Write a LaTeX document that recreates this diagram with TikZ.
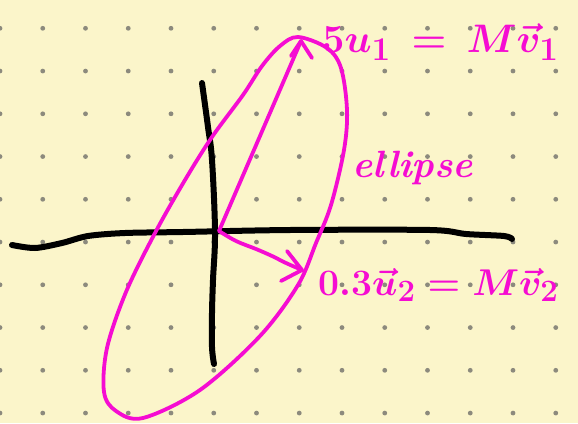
\documentclass[tikz,border=0pt]{standalone}
\usetikzlibrary{arrows.meta}
\definecolor{paper}{RGB}{251,245,202}
\definecolor{dotc}{RGB}{140,138,125}
\definecolor{pink}{RGB}{245,12,210}
\tikzset{
  axis/.style={black, line width=6pt, line cap=round, line join=round},
  ink/.style={pink, line width=3.8pt, line cap=round, line join=round},
  label/.style={pink, inner sep=0pt, font=\Huge\boldmath},
}
\begin{document}
\begin{tikzpicture}[x=1pt,y=-1pt]
  \fill[paper] (0,0) rectangle (578,423);
  \useasboundingbox (0,0) rectangle (578,423);
  % dot grid
  \foreach \i in {0,...,13} {
    \foreach \j in {0,...,9} {
      \fill[dotc] ({42.75*\i},{28.3+42.75*\j}) circle (2.4);
    }
  }
  % axes
  \draw[axis] plot[smooth, tension=0.5] coordinates {(12,245) (35,248) (62,243) (88,236) (125,233) (183,232) (290,230) (430,230) (466,234) (504,236) (512,239)};
  \draw[axis] plot[smooth, tension=0.6] coordinates {(202,83) (208,127) (212,160) (215,232) (213,280) (212,313) (212,347) (214,364)};
  % named points
  \coordinate (O) at (219,231);
  \coordinate (t1) at (301,41);
  \coordinate (t2) at (302,270);
  % ellipse
  \draw[ink] plot[smooth cycle, tension=0.55] coordinates {
    (298,37) (327,48) (341,68) (347,110) (344,150) (331,205) (316,243) (298,285)
    (260,336) (200,390) (143,418) (116,411) (104,392) (107,348) (126,292)
    (155,233) (185,180) (212,137) (243,95) (262,66) (280,46)};
  % arrow to 5u1
  \draw[ink] (O) -- (t1);
  \draw[ink] (t1) -- (291,56);
  \draw[ink] (t1) -- (312,58);
  % arrow to 0.3u2
  \draw[ink] plot[smooth, tension=0.6] coordinates {(219,231) (236,241) (256,249) (272,256) (286,263) (302,270)};
  \draw[ink] (t2) -- (287,251);
  \draw[ink] (t2) -- (281,281);
  % labels
  \node[label, anchor=west] (l1) at (322,42) {\scalebox{1.6}{$5u_1 \,=\, M\vec v_1$}};
  \node[label, anchor=west] (l2) at (318,285) {\scalebox{1.5}{$0.3\vec u_2 = M\vec v_2$}};
  \node[pink, inner sep=0pt, anchor=west, font=\fontsize{38}{44}\selectfont\itshape\bfseries] (l3) at (352,168) {ellipse};
\end{tikzpicture}
\end{document}
